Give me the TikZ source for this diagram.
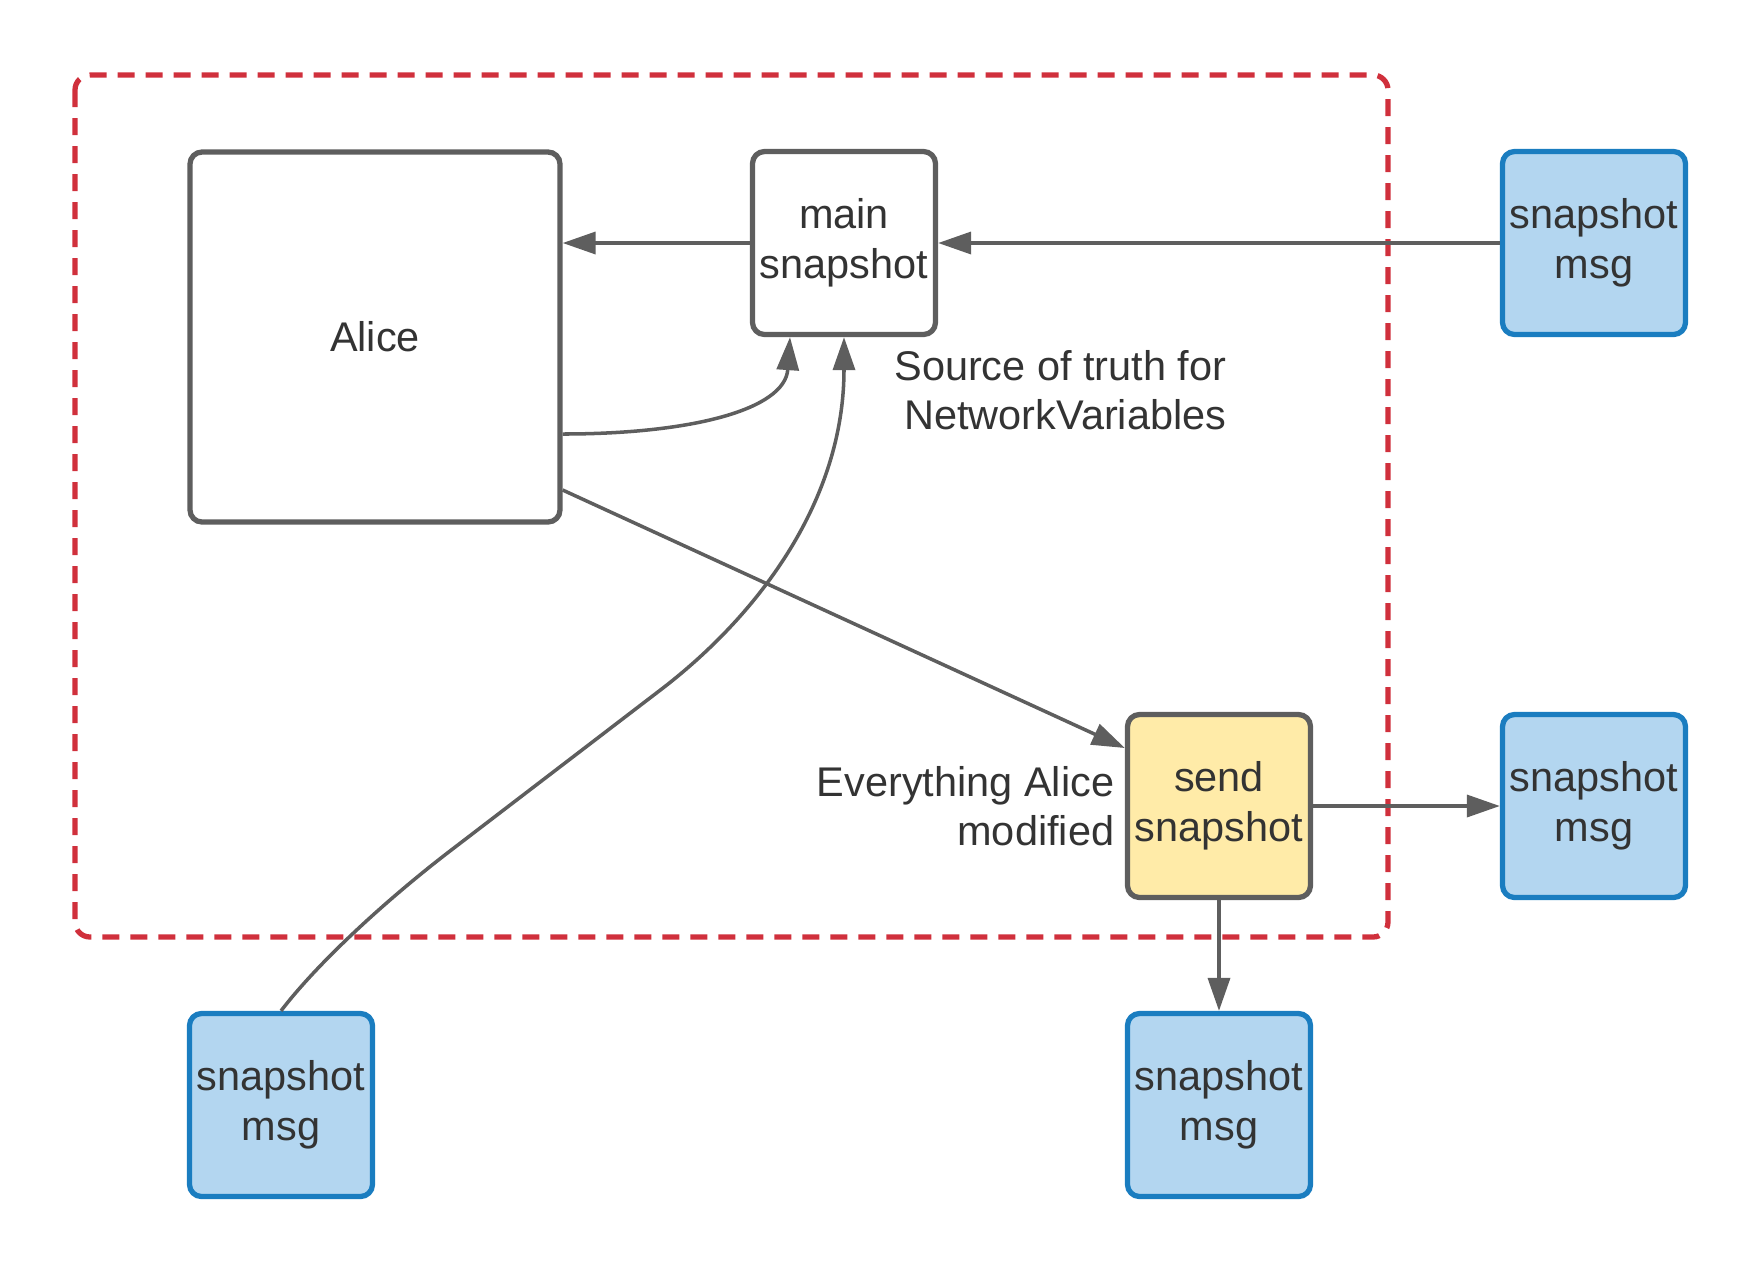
\documentclass[tikz,border=0pt]{standalone}
\usepackage{fontspec}
\setmainfont{Liberation Sans}
\usetikzlibrary{arrows.meta}

\definecolor{linegray}{HTML}{5E5E5E}
\definecolor{txtgray}{HTML}{333333}
\definecolor{msgblue}{HTML}{B3D6F0}
\definecolor{msgedge}{HTML}{1A7DC0}
\definecolor{sendyellow}{HTML}{FFEBA8}
\definecolor{zonered}{HTML}{D0303C}

\tikzset{
  box/.style={draw=linegray, line width=1.5pt, rounded corners=0.12cm, fill=white,
    align=center, text=txtgray, minimum width=1.83cm, minimum height=1.83cm,
    inner sep=0pt, font=\fontsize{11.8}{14.1}\selectfont},
  msgbox/.style={box, draw=msgedge, fill=msgblue},
  sendbox/.style={box, fill=sendyellow},
  flow/.style={draw=linegray, line width=1pt, -{Triangle[length=3.3mm,width=2.2mm]}},
  note/.style={align=right, text=txtgray, inner sep=0.1cm, font=\fontsize{11.8}{14.1}\selectfont},
  zone/.style={draw=zonered, line width=1.5pt, dash pattern=on 0.17cm off 0.11cm, rounded corners=0.15cm}
}

\begin{document}
\begin{tikzpicture}
\useasboundingbox (0,0) rectangle (17.63,-12.75);

\draw[zone] (0.75,-0.75) rectangle (13.88,-9.37);

\node[box, minimum width=3.70cm, minimum height=3.70cm] (alice) at (3.75,-3.37) {Alice};
\node[box] (main) at (8.44,-2.43) {main\\snapshot};
\node[sendbox] (send) at (12.19,-8.06) {send\\snapshot};

\node[msgbox] (msgA) at (15.94,-2.43) {snapshot\\msg};
\node[msgbox] (msgB) at (15.94,-8.06) {snapshot\\msg};
\node[msgbox] (msgC) at (12.19,-11.05) {snapshot\\msg};
\node[msgbox] (msgD) at (2.81,-11.05) {snapshot\\msg};

\node[note, anchor=east] (truth) at (12.37,-3.90) {Source of truth for\\NetworkVariables};
\node[note, anchor=east] (modified) at (send.west) {Everything Alice\\modified};

\draw[flow] (main.west) -- (main.west -| alice.east);
\draw[flow] (msgA.west) -- (main.east);
\draw[flow] ([yshift=-0.97cm]alice.east) .. controls (6.9,-4.34) and (7.85,-4.1) .. ([xshift=-0.54cm]main.south);
\draw[flow] (msgD.north) .. controls (3.2,-9.6) and (3.9,-8.97) .. (4.5,-8.51)
  -- (6.63,-6.88) .. controls (7.6,-6.13) and (8.44,-5.0) .. (main.south);
\draw[flow] ([yshift=-1.53cm]alice.east) -- ([yshift=0.58cm]send.west);
\draw[flow] (send.east) -- (msgB.west);
\draw[flow] (send.south) -- (msgC.north);
\end{tikzpicture}
\end{document}
